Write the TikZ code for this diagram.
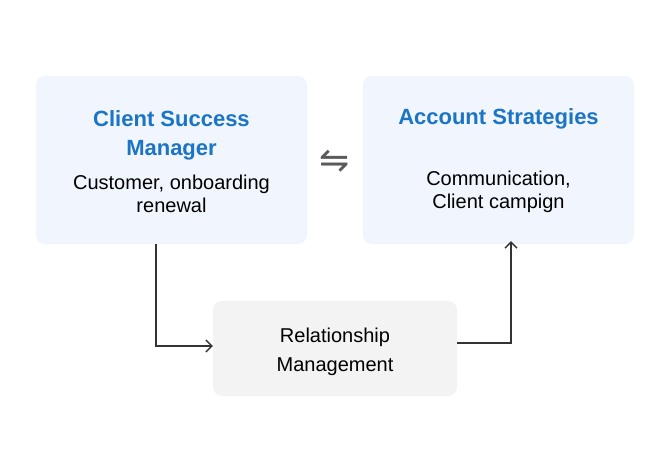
\documentclass[tikz,border=0pt]{standalone}
\usepackage{fontspec}
\setmainfont{Liberation Sans}
\newfontfamily\symfont{DejaVu Sans}
\usetikzlibrary{arrows.meta}
\definecolor{boxblue}{HTML}{F0F5FE}
\definecolor{boxgray}{HTML}{F3F3F3}
\definecolor{titleblue}{HTML}{1B75C4}
\definecolor{linegray}{HTML}{333333}
\definecolor{symgray}{HTML}{5A5A5A}
\tikzset{
  bluebox/.style={fill=boxblue, draw=none, rounded corners=9pt, minimum width=271pt, minimum height=168pt, inner sep=0pt},
  graybox/.style={fill=boxgray, draw=none, rounded corners=9pt, minimum width=244pt, minimum height=95pt, inner sep=0pt},
  titletext/.style={text=titleblue, font=\fontsize{22}{29}\selectfont\bfseries, align=center, inner sep=0pt},
  bodytext/.style={text=black, font=\fontsize{20}{23}\selectfont, align=center, inner sep=0pt},
  widetext/.style={text=black, font=\fontsize{20}{29}\selectfont, align=center, inner sep=0pt},
  conn/.style={draw=linegray, line width=1.3pt, -{Straight Barb[length=6pt,width=12pt,line width=1.3pt]}},
}
\begin{document}
\begin{tikzpicture}[x=1pt,y=1pt]
\useasboundingbox[fill=white] (0,0) rectangle (669,-474);
\node[bluebox] (b1) at (171.5,-160) {};
\node[bluebox] (b2) at (498.5,-160) {};
\node[graybox] (b3) at (335,-348.5) {};
\node[titletext] (t1) at (171.5,-135) {Client Success\\Manager};
\node[bodytext] (d1) at (171.5,-193.5) {Customer, onboarding\\renewal};
\node[titletext] (t2) at (498.5,-119) {Account Strategies};
\node[bodytext] (d2) at (498.5,-191.5) {Communication,\\Client campign};
\node[widetext] (d3) at (335,-351.5) {Relationship\\Management};
\node[text=symgray, font=\symfont\fontsize{36}{36}\selectfont, inner sep=0pt] (swap) at (335,-161) {⇋};
\draw[conn] ([xshift=-15.5pt]b1.south) |- ([yshift=2.5pt]b3.west);
\draw[conn] ([yshift=5.5pt]b3.east) -| ([xshift=12.5pt,yshift=3pt]b2.south);
\end{tikzpicture}
\end{document}
